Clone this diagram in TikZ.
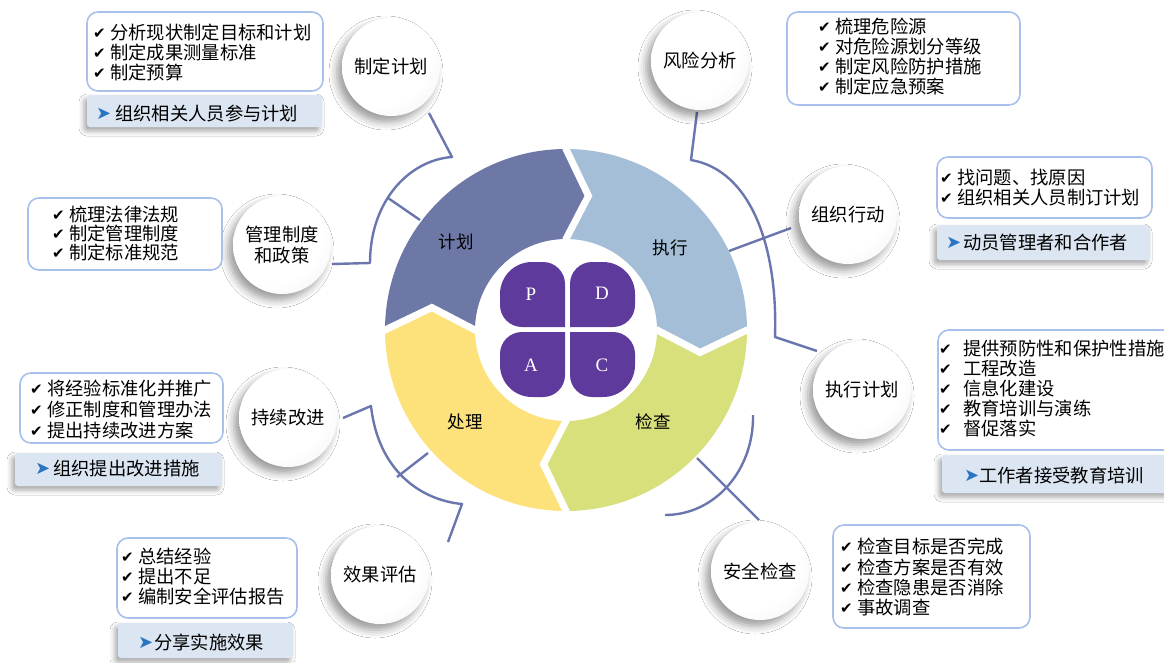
\documentclass[tikz,border=0pt]{standalone}
\usepackage{fontspec}
\setmainfont{Liberation Serif}
\newfontfamily\cjk{Noto Sans CJK SC}
\newfontfamily\dejavu{DejaVu Sans}
\usetikzlibrary{shadows.blur}
\definecolor{planc}{HTML}{6D78A6}
\definecolor{doc}{HTML}{A3BED6}
\definecolor{checkc}{HTML}{D7E07B}
\definecolor{actc}{HTML}{FDE17B}
\definecolor{petalc}{HTML}{5F3A9D}
\definecolor{connc}{HTML}{6A77AE}
\definecolor{boxline}{HTML}{A8C0EC}
\definecolor{bluefill}{HTML}{DCE6F2}
\definecolor{arrowc}{HTML}{2A74C4}
\pgfdeclareradialshading{bubsh}{\pgfpoint{-12bp}{12bp}}{color(0bp)=(white); color(28bp)=(white); color(50bp)=(black!8); color(66bp)=(black!22); color(80bp)=(black!24)}
\newcommand\cjkfont{\cjk\fontsize{18.3}{20.3}\selectfont}
\newcommand\ckm[1][17pt]{\makebox[#1][l]{\dejavu\fontsize{15}{15}\selectfont\raisebox{0.5pt}{✔}}}
\newcommand\arw[1]{\makebox[#1][l]{\dejavu\fontsize{18}{18}\selectfont\color{arrowc}\raisebox{0.5pt}{➤}}}
\begin{document}
\begin{tikzpicture}[x=1pt,y=-1pt,
  conn/.style={draw=connc, line width=2.4pt, line join=round},
  chk/.style={draw=boxline, line width=1.6pt, fill=white, rounded corners=11pt},
  blu/.style={fill=bluefill, rounded corners=3pt, blur shadow={shadow xshift=-3pt, shadow yshift=-4pt, shadow blur radius=5pt, shadow opacity=35}},
  bub/.style={circle, minimum size=98pt, inner sep=0pt, shade, shading=bubsh, blur shadow={shadow xshift=-5pt, shadow yshift=-6pt, shadow blur radius=8pt, shadow opacity=40}, font=\cjkfont, align=center},
  ln/.style={anchor=base west, inner sep=0pt, font=\cjkfont},
  ringlbl/.style={inner sep=0pt, font=\cjk\fontsize{17.5}{18}\selectfont},
  letter/.style={inner sep=0pt, text=white, font=\fontsize{19}{19}\selectfont}]
\useasboundingbox (0,0) rectangle (1164,662);
\fill[white] (0,0) rectangle (1164,662);

% ring
\begin{scope}[shift={(566,330)}]
\fill[planc] (180:181) arc[start angle=180,end angle=270,radius=181] -- (279.5:136) -- (270:91) arc[start angle=270,end angle=180,radius=91] -- (189.5:136) -- cycle;
\fill[doc] (270:181) arc[start angle=270,end angle=360,radius=181] -- (9.5:136) -- (0:91) arc[start angle=360,end angle=270,radius=91] -- (279.5:136) -- cycle;
\fill[checkc] (0:181) arc[start angle=0,end angle=90,radius=181] -- (99.5:136) -- (90:91) arc[start angle=90,end angle=0,radius=91] -- (9.5:136) -- cycle;
\fill[actc] (90:181) arc[start angle=90,end angle=180,radius=181] -- (189.5:136) -- (180:91) arc[start angle=180,end angle=90,radius=91] -- (99.5:136) -- cycle;
\foreach \t in {0,90,180,270} \draw[white,line width=7pt] (\t:188) -- (\t:181) -- (\t+9.5:136) -- (\t:91) -- (\t:84);
\end{scope}

% petals
\fill[petalc] (565,327) -- (565,284) arc[start angle=0,end angle=-90,radius=22] -- (532,262) arc[start angle=270,end angle=180,radius=32] -- (500,305) arc[start angle=180,end angle=90,radius=22] -- cycle;
\fill[petalc] (570,327) -- (570,284) arc[start angle=180,end angle=270,radius=22] -- (603,262) arc[start angle=270,end angle=360,radius=32] -- (635,305) arc[start angle=0,end angle=90,radius=22] -- cycle;
\fill[petalc] (565,332) -- (565,375) arc[start angle=0,end angle=90,radius=22] -- (532,397) arc[start angle=90,end angle=180,radius=32] -- (500,354) arc[start angle=180,end angle=270,radius=22] -- cycle;
\fill[petalc] (570,332) -- (570,375) arc[start angle=180,end angle=90,radius=22] -- (603,397) arc[start angle=90,end angle=0,radius=32] -- (635,354) arc[start angle=0,end angle=-90,radius=22] -- cycle;
\node[letter] (pP) at (531,294) {P};
\node[letter] (pD) at (602,293) {D};
\node[letter] (pA) at (531,365) {A};
\node[letter] (pC) at (602,365) {C};

% ring labels
\node[ringlbl] (lP) at (456,242) {计划};
\node[ringlbl] (lD) at (670,248) {执行};
\node[ringlbl] (lC) at (653,422) {检查};
\node[ringlbl] (lA) at (465,422) {处理};

% connectors
\coordinate (a1) at (429,113); \coordinate (a2) at (452,157);
\coordinate (a3) at (370,263); \coordinate (a4) at (332,264);
\coordinate (a5) at (420,220); \coordinate (a6) at (388,198);
\draw[conn] (a1) -- (a2) .. controls (410,160) and (370,200) .. (a3) -- (a4);
\draw[conn] (a5) -- (a6);
\coordinate (b1) at (697,112); \coordinate (b2) at (691,160);
\coordinate (b3) at (775,337); \coordinate (b4) at (817,351);
\coordinate (b5) at (729,251); \coordinate (b6) at (791,228);
\draw[conn] (b1) -- (b2) .. controls (750,170) and (778,245) .. (b3) -- (b4);
\draw[conn] (b5) -- (b6);
\coordinate (c1) at (753,415); \coordinate (c2) at (665,515);
\coordinate (c3) at (697,458); \coordinate (c4) at (759,520);
\draw[conn] (c1) .. controls (754,470) and (715,515) .. (c2);
\draw[conn] (c3) -- (c4);
\coordinate (d1) at (343,418); \coordinate (d2) at (371,406);
\coordinate (d3) at (462,504); \coordinate (d4) at (448,542);
\coordinate (d5) at (428,453); \coordinate (d6) at (397,477);
\draw[conn] (d1) -- (d2) .. controls (378,470) and (420,500) .. (d3) -- (d4);
\draw[conn] (d5) -- (d6);

% bubbles
\node[bub] (s1) at (391,67) {制定计划};
\node[bub] (s2) at (700,61) {风险分析};
\node[bub] (s3) at (282,245) {管理制度\\和政策};
\node[bub] (s4) at (848,215) {组织行动};
\node[bub] (s5) at (862,390) {执行计划};
\node[bub] (s6) at (288,418) {持续改进};
\node[bub] (s7) at (760,571) {安全检查};
\node[bub] (s8) at (380,575) {效果评估};

% boxes
\draw[chk] (87,12) rectangle (323,91);
\fill[blu] (87,95) rectangle (322,127);
\draw[chk] (28,198) rectangle (222,270);
\draw[chk] (787,12) rectangle (1020,105);
\draw[chk] (937,157) rectangle (1152,218);
\fill[blu] (937,225) rectangle (1150,260);
\draw[chk] (938,330) rectangle (1185,450);
\fill[blu] (942,455) rectangle (1185,493);
\draw[chk] (20,373) rectangle (223,443);
\fill[blu] (15,453) rectangle (222,486);
\draw[chk] (117,538) rectangle (297,618);
\fill[blu] (118,623) rectangle (293,658);
\draw[chk] (833,525) rectangle (1030,628);

% texts
\node[ln] (tA1) at (93,39) {\ckm 分析现状制定目标和计划};
\node[ln] (tA2) at (93,59) {\ckm 制定成果测量标准};
\node[ln] (tA3) at (93,79) {\ckm 制定预算};
\node[ln] (tA4) at (96,120) {\arw{19pt}组织相关人员参与计划};

\node[ln] (tC1) at (52,221) {\ckm 梳理法律法规};
\node[ln] (tC2) at (52,240) {\ckm 制定管理制度};
\node[ln] (tC3) at (52,259) {\ckm 制定标准规范};

\node[ln] (tD1) at (818,33) {\ckm 梳理危险源};
\node[ln] (tD2) at (818,53) {\ckm 对危险源划分等级};
\node[ln] (tD3) at (818,73) {\ckm 制定风险防护措施};
\node[ln] (tD4) at (818,93) {\ckm 制定应急预案};

\node[ln] (tE1) at (940,184) {\ckm 找问题、找原因};
\node[ln] (tE2) at (940,204) {\ckm 组织相关人员制订计划};
\node[ln] (tE3) at (946,249) {\arw{17pt}动员管理者和合作者};

\node[ln] (tF1) at (939,355) {\ckm[20pt] 提供预防性和保护性措施};
\node[ln] (tF2) at (939,375) {\ckm[20pt] 工程改造};
\node[ln] (tF3) at (939,395) {\ckm[20pt] 信息化建设};
\node[ln] (tF4) at (939,415) {\ckm[20pt] 教育培训与演练};
\node[ln] (tF5) at (939,435) {\ckm[20pt] 督促落实};
\node[ln] (tF6) at (964,482) {\arw{15pt}工作者接受教育培训};

\node[ln] (tG1) at (30,395) {\ckm 将经验标准化并推广};
\node[ln] (tG2) at (30,416) {\ckm 修正制度和管理办法};
\node[ln] (tG3) at (30,437) {\ckm 提出持续改进方案};
\node[ln] (tG4) at (35,475) {\arw{18pt}组织提出改进措施};

\node[ln] (tH1) at (121,563) {\ckm 总结经验};
\node[ln] (tH2) at (121,583) {\ckm 提出不足};
\node[ln] (tH3) at (121,603) {\ckm 编制安全评估报告};
\node[ln] (tH4) at (138,649) {\arw{16pt}分享实施效果};

\node[ln] (tI1) at (840,553) {\ckm 检查目标是否完成};
\node[ln] (tI2) at (840,574) {\ckm 检查方案是否有效};
\node[ln] (tI3) at (840,594) {\ckm 检查隐患是否消除};
\node[ln] (tI4) at (840,614) {\ckm 事故调查};
\end{tikzpicture}
\end{document}
